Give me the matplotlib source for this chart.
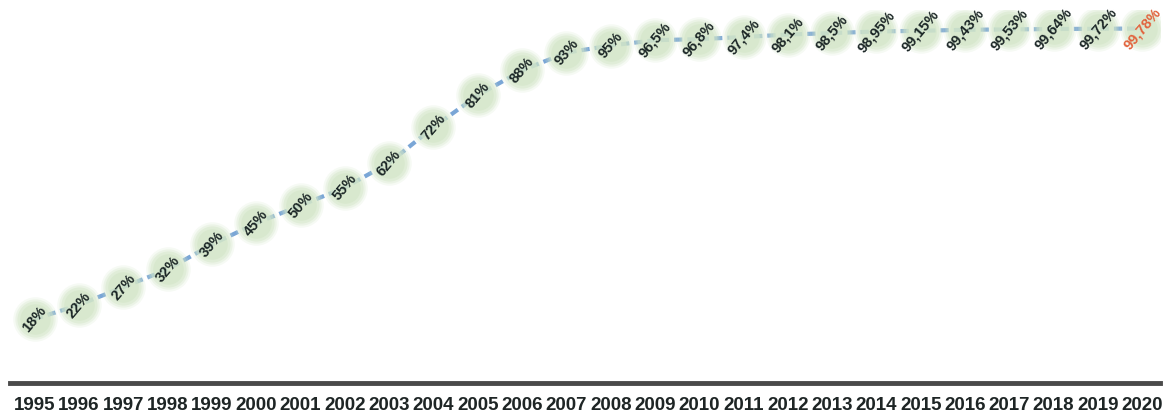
"""
Adoption curve 1995-2020 with rotated percentage labels on soft markers.
"""
import matplotlib
matplotlib.use("Agg")
import matplotlib.pyplot as plt

# ── Data ──────────────────────────────────────────────────────────────────────
YEARS = list(range(1995, 2021))
VALUES = [18, 22, 27, 32, 39, 45, 50, 55, 62, 72, 81, 88, 93, 95,
          96.5, 96.8, 97.4, 98.1, 98.5, 98.95, 99.15, 99.43, 99.53,
          99.64, 99.72, 99.78]
LABELS = ["18%", "22%", "27%", "32%", "39%", "45%", "50%", "55%", "62%",
          "72%", "81%", "88%", "93%", "95%", "96,5%", "96,8%", "97,4%",
          "98,1%", "98,5%", "98,95%", "99,15%", "99,43%", "99,53%",
          "99,64%", "99,72%", "99,78%"]

# ── Style ─────────────────────────────────────────────────────────────────────
plt.rcParams.update({
    "font.family": ["Liberation Sans", "DejaVu Sans"],
    "font.weight": "bold",
})

fig = plt.figure(figsize=(11.65, 4.18), dpi=100)
ax = fig.add_axes([10 / 1165, 35 / 418, 1150 / 1165, 373 / 418])

x = list(range(len(YEARS)))

# soft "blurred" green markers: stacked circles of decreasing size
for ms, a in [(32, 0.2), (29, 0.3), (26, 0.45), (22, 0.6)]:
    ax.plot(x, VALUES, linestyle="none", marker="o", markersize=ms,
            markerfacecolor="#d3e6c8", markeredgewidth=0, alpha=a, zorder=2)

# dashed connecting line
ax.plot(x, VALUES, color="#7aa6d6", linewidth=3, linestyle=(0, (2, 1.2)),
        zorder=1)

# rotated labels
for i, (v, lab) in enumerate(zip(VALUES, LABELS)):
    color = "#e2623c" if i == len(VALUES) - 1 else "#1b2626"
    ax.text(i, v, lab, rotation=50, ha="center", va="center",
            fontsize=10.5, fontweight="bold", color=color, zorder=4,
            rotation_mode="anchor")

# ── Axes ──────────────────────────────────────────────────────────────────────
ax.set_xlim(-0.56, 25.4)
ax.set_ylim(0, 105)
ax.set_xticks(x)
ax.set_xticklabels([str(y) for y in YEARS], fontsize=13.5, fontweight="bold",
                   color="#1e2525")
ax.tick_params(axis="x", length=0, pad=10)
ax.set_yticks([])
for side in ("top", "right", "left"):
    ax.spines[side].set_visible(False)
ax.spines["bottom"].set_linewidth(3.5)
ax.spines["bottom"].set_color("#4a4a4a")

fig.savefig("out.png", dpi=100)
